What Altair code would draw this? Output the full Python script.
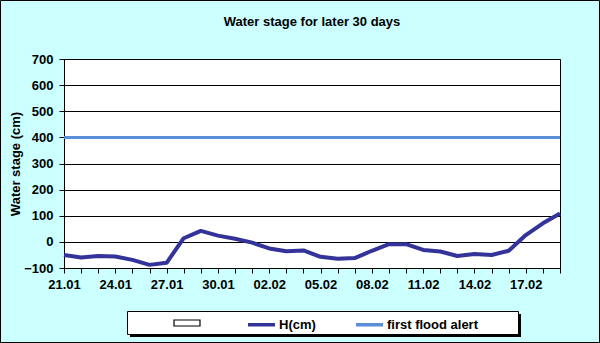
import json
import altair as alt
import pandas as pd

# ---- data ----
dates = ["21.01", "22.01", "23.01", "24.01", "25.01", "26.01", "27.01", "28.01",
         "29.01", "30.01", "31.01", "01.02", "02.02", "03.02", "04.02", "05.02",
         "06.02", "07.02", "08.02", "09.02", "10.02", "11.02", "12.02", "13.02",
         "14.02", "15.02", "16.02", "17.02", "18.02", "19.02"]
h_cm = [-50, -60, -54, -56, -69, -88, -80, 14, 42, 24, 12, -3, -25, -36, -33,
        -57, -65, -62, -34, -9, -9, -31, -37, -54, -46, -50, -34, 26, 71, 109]
flood_alert = [400, 400, 400, 400, 400, 400, 400, 400, 400, 400,
               400, 400, 400, 400, 400, 400, 400, 400, 400, 400,
               400, 400, 400, 400, 400, 400, 400, 400, 400, 400]
series_names = ["H(cm)", "first flood alert"]
series_colors = ["#333399", "#5A8FD8"]
series_widths = [4, 3]
empty_series = [""]
y_ticks = [-100, 0, 100, 200, 300, 400, 500, 600, 700]
x_labels = ["21.01", "24.01", "27.01", "30.01", "02.02", "05.02", "08.02",
            "11.02", "14.02", "17.02"]

FONT = "Liberation Sans"
FS = 13

rows = []
for d, v in zip(dates, h_cm):
    rows.append({"date": d, "value": v, "series": "H(cm)"})
for d, v in zip(dates, flood_alert):
    rows.append({"date": d, "value": v, "series": "first flood alert"})
df = pd.DataFrame(rows)

label_expr = "indexof(" + json.dumps(x_labels) + ", datum.value) >= 0 ? datum.value : ''"

line_legend = alt.Legend(
    orient="none", legendX=182, legendY=250, direction="horizontal", columns=2,
    title=None, symbolType="stroke", symbolSize=729, symbolStrokeWidth=3.5,
    labelFont=FONT, labelFontSize=FS, labelFontWeight="bold", labelColor="black",
    labelOffset=2, columnPadding=33, padding=0, zindex=2,
)

lines = alt.Chart(df).mark_line(strokeJoin="round", strokeCap="butt").encode(
    x=alt.X("date:O", sort=dates, scale=alt.Scale(type="point", padding=0),
            axis=alt.Axis(title=None, labelAngle=0, labelExpr=label_expr,
                          labelFont=FONT, labelFontSize=FS, labelFontWeight="bold",
                          labelColor="black", tickColor="black", tickSize=5,
                          domainColor="black", labelPadding=5, grid=False,
                          labelOverlap=False)),
    y=alt.Y("value:Q", scale=alt.Scale(domain=[-100, 700], nice=False, zero=False),
            axis=alt.Axis(values=y_ticks, title="Water stage (cm)", titleFont=FONT,
                          titleFontSize=FS, titleFontWeight="bold", titleColor="black",
                          titlePadding=1, labelFont=FONT, labelFontSize=FS,
                          labelFontWeight="bold", labelColor="black", labelPadding=6,
                          tickColor="black", tickSize=5, domainColor="black",
                          grid=True, gridColor="black", gridWidth=1, gridOpacity=1)),
    color=alt.Color("series:N", scale=alt.Scale(domain=series_names, range=series_colors),
                    legend=line_legend),
    strokeWidth=alt.StrokeWidth("series:N",
                                scale=alt.Scale(domain=series_names, range=series_widths),
                                legend=None),
)

deco_df = pd.DataFrame({"lbl": empty_series})
outer_border = alt.Chart(deco_df).mark_rect(fill=None, stroke="black", strokeWidth=1).encode(
    x=alt.value(-63.5), x2=alt.value(535.5), y=alt.value(-58.5), y2=alt.value(283.5))
legend_shadow = alt.Chart(deco_df).mark_rect(fill="black", stroke=None).encode(
    x=alt.value(66), x2=alt.value(457), y=alt.value(255), y2=alt.value(278))
legend_box = alt.Chart(deco_df).mark_rect(stroke="black", strokeWidth=1).encode(
    x=alt.value(63.5), x2=alt.value(454.5), y=alt.value(252.5), y2=alt.value(275.5),
    fill=alt.Fill("lbl:N", scale=alt.Scale(domain=empty_series, range=["white"]),
                  legend=alt.Legend(orient="none", legendX=109, legendY=250,
                                    title=None, symbolType="M-1,-0.23H1V0.23H-1Z",
                                    symbolSize=676, symbolFillColor="white",
                                    symbolStrokeColor="black", symbolStrokeWidth=1.2,
                                    labelFontSize=FS, padding=0, zindex=2)),
)

chart = alt.layer(lines, legend_shadow, legend_box, outer_border).properties(
    width=496, height=209,
    title=alt.Title("Water stage for later 30 days", font=FONT, fontSize=FS,
                    fontWeight="bold", color="black", anchor="middle", frame="group",
                    offset=-29),
    autosize=alt.AutoSizeParams(type="none"),
    padding={"left": 64, "top": 59, "right": 40, "bottom": 75},
    background="#CCFFFF",
).resolve_scale(color="independent").configure_view(fill="white", stroke="black", strokeWidth=1)

chart.save("out.html", embed_options={"renderer": "svg", "actions": False})
